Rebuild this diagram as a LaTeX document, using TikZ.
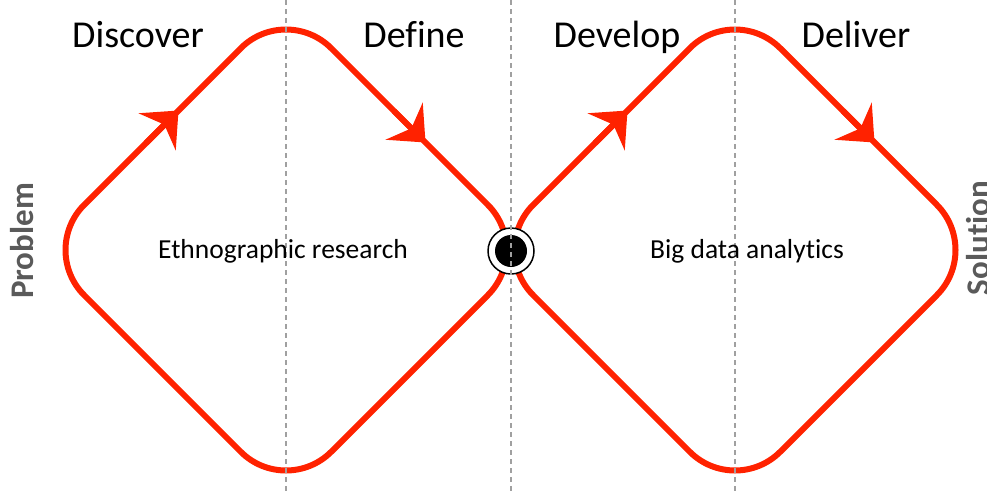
\documentclass[tikz,border=0pt]{standalone}
\usepackage{fontspec}
\setmainfont{Carlito}[Ligatures=NoCommon]
\usetikzlibrary{arrows.meta}
\definecolor{loopred}{RGB}{255,34,0}
\definecolor{sidegray}{RGB}{90,90,90}
\definecolor{guidegray}{RGB}{160,160,160}

\begin{document}
\begin{tikzpicture}[x=1pt, y=-1pt,
    loopline/.style={draw=loopred, line width=6pt, rounded corners=64pt},
    looparrow/.style={draw=loopred, line width=6pt, -{Stealth[length=30pt, width=52pt, inset=10pt]}},
    phase/.style={anchor=base, font=\fontsize{38}{42}\selectfont},
    method/.style={anchor=base, font=\fontsize{27.5}{32}\selectfont},
    side/.style={rotate=90, anchor=base, text=sidegray, font=\bfseries\fontsize{33}{36}\selectfont}]
    \clip (0,0) rectangle (987,491);

    % the two diamonds, with their arrowheads
    \foreach \cx in {286, 735} {
        \draw[loopline] (\cx-123.5,373.5) -- (\cx-247,250) -- (\cx,3) -- (\cx+247,250) -- (\cx,497) -- cycle;
        \draw[looparrow] (\cx-140,143) -- (\cx-107.5,110.5);
        \draw[looparrow] (\cx+108,111) -- (\cx+139.5,142.5);
    }

    % centre point
    \node[circle, draw, line width=1.5pt, fill=white, minimum size=46pt, inner sep=0pt] (hub) at (511,251) {};
    \node[circle, fill=black, minimum size=32pt, inner sep=0pt] (hubdot) at (hub) {};

    % guide lines
    \foreach \x in {286, 511, 735} {
        \draw[guidegray, line width=1.2pt, dash pattern=on 5pt off 4pt] (\x,0) -- (\x,491);
    }

    \node[phase] (discover) at (138,47) {Discover};
    \node[phase] (define) at (414,47) {Define};
    \node[phase] (develop) at (617,47) {Develop};
    \node[phase] (deliver) at (856,47) {Deliver};

    \node[method] (ethno) at (283,258) {Ethnographic research};
    \node[method] (bigdata) at (747,258) {Big data analytics};

    \node[side] (problem) at (33,241) {Problem};
    \node[side] (solution) at (989,238) {Solution};
\end{tikzpicture}
\end{document}
